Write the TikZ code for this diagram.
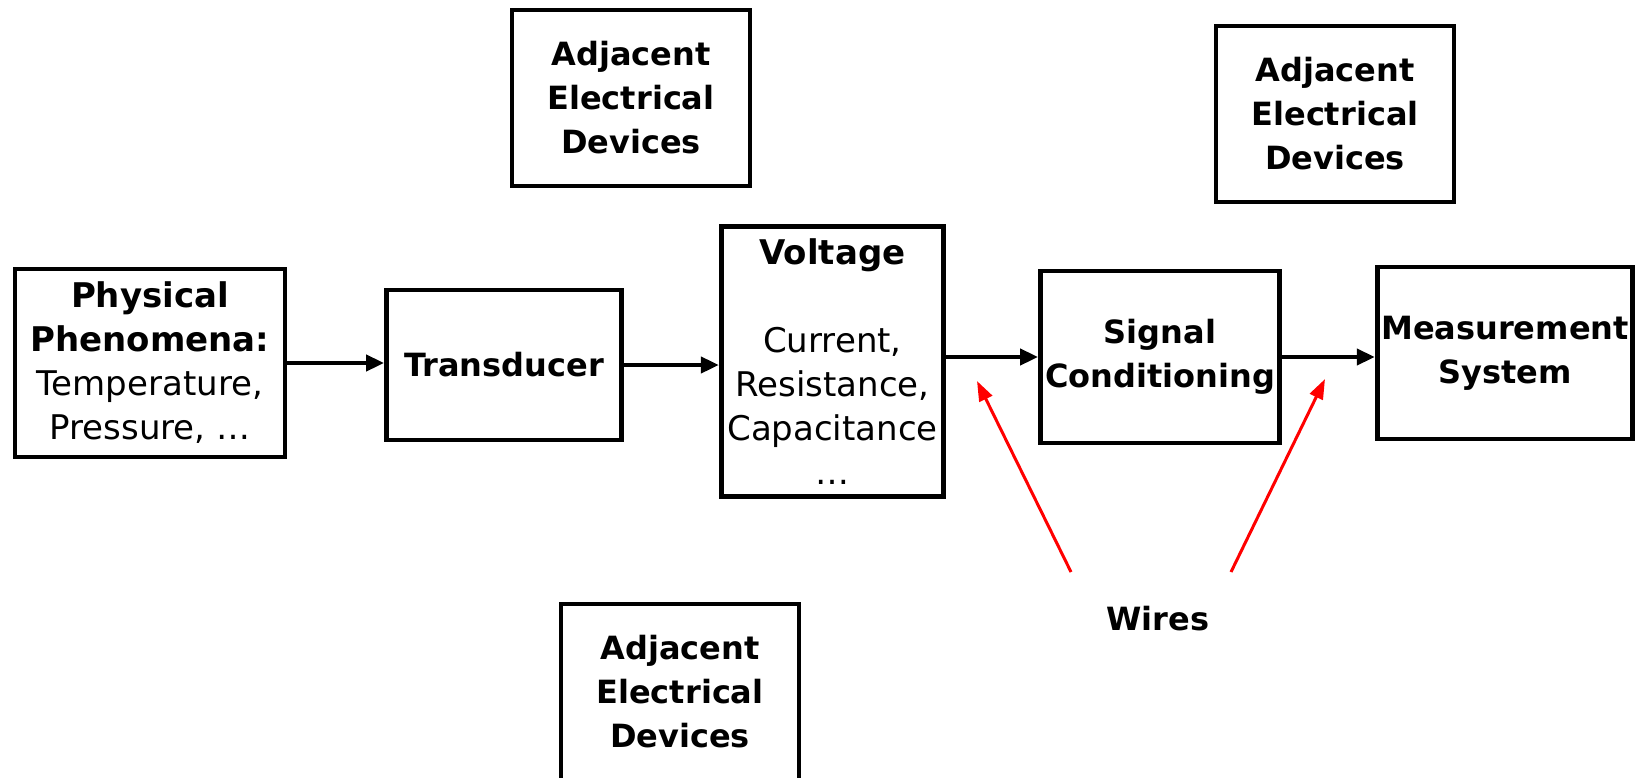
\documentclass[tikz,border=0pt]{standalone}
\usepackage{xcolor}
\usepackage{fontspec}
\setmainfont{DejaVu Sans}
\usepackage{tikz}
\usetikzlibrary{arrows.meta, positioning}

\begin{document}
\begin{tikzpicture}[x=0.5pt, y=-0.5pt, >={Triangle[length=9pt,width=8pt]},
        every node/.style={font=\fontsize{17}{22}\selectfont},
        block/.style={rectangle, draw, line width=2.4pt, align=center, inner sep=2pt},
        boldtxt/.style={font=\fontsize{16}{22}\selectfont\bfseries},
        adjbox/.style={block, boldtxt, minimum width=119pt, minimum height=88pt},
        flow/.style={->, line width=2pt},
        wire/.style={-{Triangle[length=10pt,width=7pt]}, red, line width=1.5pt}]

    \useasboundingbox (0,0) rectangle (1639,777);

    \node (phys) [block, minimum width=135pt, minimum height=94pt] at (150,363)
        {\textbf{Physical}\\\textbf{Phenomena:}\\Temperature,\\Pressure, \dots};
    \node (trans) [block, boldtxt, minimum width=117.5pt, minimum height=75pt] at (504,365) {Transducer};
    \node (volt) [block, minimum width=111pt, minimum height=135pt, anchor=north, inner sep=3pt] at (832.5,224)
        {\textbf{Voltage}\\[22pt]Current,\\Resistance,\\Capacitance\\\dots};
    \node (sig) [block, boldtxt, minimum width=119.5pt, minimum height=86pt] at (1160,357) {Signal\\Conditioning};
    \node (meas) [block, boldtxt, minimum width=125pt, minimum height=86pt] at (1505,353) {Measurement\\System};

    \node (adj1) [adjbox] at (631,98) {Adjacent\\Electrical\\Devices};
    \node (adj2) [adjbox] at (1335,114) {Adjacent\\Electrical\\Devices};
    \node (adj3) [adjbox] at (680,692) {Adjacent\\Electrical\\Devices};

    \node (wires) [boldtxt] at (1158,619) {Wires};
    \coordinate (w1) at (1071,572);
    \coordinate (t1) at (977,381);
    \coordinate (w2) at (1231,572);
    \coordinate (t2) at (1325,379);

    \draw[flow] (phys.east) -- (phys.east -| trans.west);
    \draw[flow] (trans.east) -- (trans.east -| volt.west);
    \draw[flow] (sig.west -| volt.east) -- (sig.west);
    \draw[flow] (sig.east) -- (sig.east -| meas.west);

    \draw[wire] (w1) -- (t1);
    \draw[wire] (w2) -- (t2);
\end{tikzpicture}
\end{document}
